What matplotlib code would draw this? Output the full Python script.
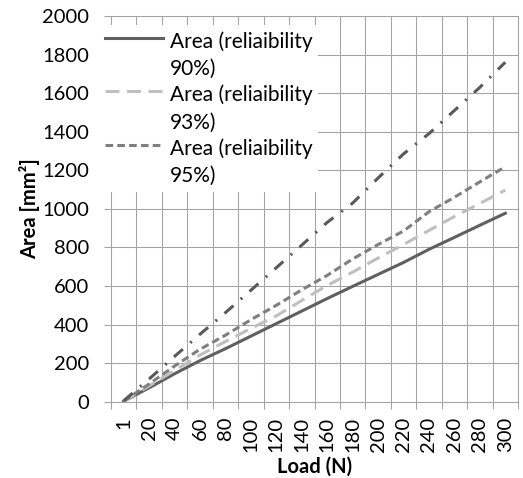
import numpy as np
import matplotlib
matplotlib.use("Agg")
import matplotlib.pyplot as plt
from matplotlib.lines import Line2D
from matplotlib.legend_handler import HandlerLine2D

# load categories (N) and area values (mm^2)
loads = ['1', '20', '40', '60', '80', '100', '120', '140', '160', '180',
         '200', '220', '240', '260', '280', '300']
area_90 = [3, 72, 145, 213, 275, 340, 405, 470, 535, 598,
           660, 722, 790, 852, 915, 977]
area_93 = [3, 82, 162, 242, 312, 380, 445, 525, 603, 672,
           745, 815, 888, 960, 1028, 1097]
area_95 = [3, 92, 185, 272, 345, 425, 500, 580, 655, 740,
           815, 885, 985, 1060, 1140, 1218]
area_extra = [5, 118, 235, 350, 462, 578, 695, 812, 930, 1030,
              1160, 1285, 1390, 1510, 1630, 1760]

legend_labels = ['Area (reliaibility\n90%)', 'Area (reliaibility\n93%)',
                 'Area (reliaibility\n95%)']


class FirstLineHandler(HandlerLine2D):
    # put the legend line next to the first text line, like Excel does
    def __init__(self, shift, **kw):
        super().__init__(**kw)
        self.shift = shift

    def create_artists(self, *args, **kw):
        artists = super().create_artists(*args, **kw)
        for a in artists:
            a.set_ydata(np.asarray(a.get_ydata()) + self.shift)
        return artists


plt.rcParams['font.family'] = ['Lato', 'DejaVu Sans']
plt.rcParams['lines.scale_dashes'] = False

grid = '#a3a3a3'
fs = 14.5

fig = plt.figure(figsize=(5.23, 4.78), dpi=100)
ax = fig.add_axes([111 / 523, 76.3 / 478, 407 / 523, 385.7 / 478])

x = np.arange(len(loads))
ax.plot(x, area_90, color='#5f5f5f', lw=2.2, label=legend_labels[0])
ax.plot(x, area_93, color='#bfbfbf', lw=2.2, ls=(0, (10, 5.5)),
        label=legend_labels[1])
ax.plot(x, area_95, color='#7f7f7f', lw=2.2, ls=(0, (5.5, 3)),
        label=legend_labels[2])
ax.plot(x, area_extra, color='#595959', lw=2.2, ls=(0, (8.5, 7, 1.5, 7)))

ax.set_xlim(-0.5, len(loads) - 0.5)
ax.set_ylim(0, 2000)
ax.set_xticks(x)
ax.set_xticklabels(loads, rotation=90)
ax.set_xticks(np.arange(-0.5, len(loads)), minor=True)
ax.set_yticks(np.arange(0, 2001, 200))

ax.tick_params(axis='x', which='major', length=0, pad=11, labelsize=fs)
ax.tick_params(axis='x', which='minor', length=5, width=0.75, color=grid)
ax.tick_params(axis='y', length=5, width=0.75, color=grid, pad=11,
               labelsize=fs)
ax.grid(axis='x', which='minor', color=grid, lw=0.75)
ax.grid(axis='y', which='major', color=grid, lw=0.75)
ax.set_axisbelow(True)
for s in ax.spines.values():
    s.set_color(grid)
    s.set_linewidth(0.75)

ax.set_xlabel('Load (N)', fontsize=fs, fontweight='bold', labelpad=3)
ax.set_ylabel('Area [mm²]', fontsize=fs, fontweight='bold', labelpad=1)

leg = ax.legend(loc='upper left', bbox_to_anchor=(-0.03, 0.977),
                frameon=True, facecolor='white', edgecolor='none',
                framealpha=1, fancybox=False, fontsize=15,
                handlelength=2.8, handletextpad=0.3, labelspacing=0.28,
                borderpad=0.3, borderaxespad=0,
                handler_map={Line2D: FirstLineHandler(13)})
for t in leg.get_texts():
    t.set_linespacing(1.45)

fig.savefig('out.png', dpi=100)
